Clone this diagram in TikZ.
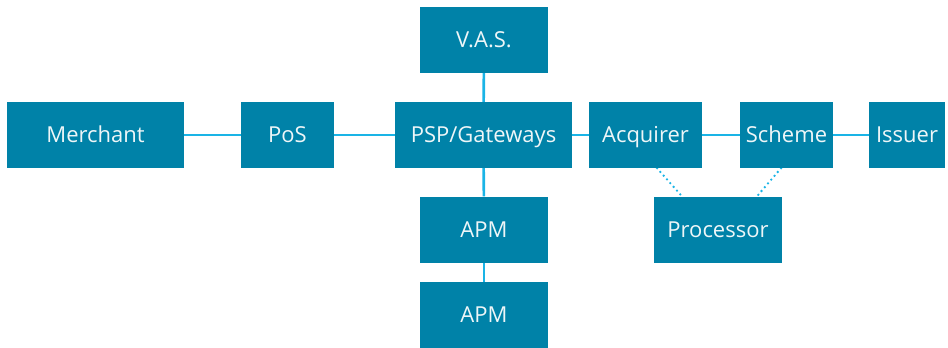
\documentclass[tikz,border=0pt]{standalone}
\usepackage{fontspec}
\setmainfont{Open Sans}
\usetikzlibrary{backgrounds,calc}
\definecolor{boxfill}{HTML}{0082A8}
\definecolor{linkc}{HTML}{1AB4E6}
\definecolor{txt}{HTML}{EEF6F8}
\begin{document}
\begin{tikzpicture}[x=1pt,y=-1pt,
  box/.style={fill=boxfill,text=txt,inner sep=0pt,minimum height=66pt,text height=15.7pt,text depth=0pt,font=\fontsize{22}{26}\selectfont},
  link/.style={draw=linkc,line width=2.6pt},
  dotlink/.style={draw=linkc,line width=2.6pt,line cap=round,dash pattern=on 0pt off 5pt}]
\useasboundingbox (0,0) rectangle (948,348);
\node[box,minimum width=177pt] (merchant) at (95.5,135) {Merchant};
\node[box,minimum width=93pt] (pos) at (287.5,135) {PoS};
\node[box,minimum width=177pt] (psp) at (483.5,135) {PSP/Gateways};
\node[box,minimum width=128pt] (vas) at (484,40) {V.A.S.};
\node[box,minimum width=113pt] (acq) at (645.5,135) {Acquirer};
\node[box,minimum width=93pt] (scheme) at (786.5,135) {Scheme};
\node[box,minimum width=76pt] (issuer) at (907,135) {Issuer};
\node[box,minimum width=128pt] (apma) at (484,229.5) {APM};
\node[box,minimum width=128pt] (apmb) at (484,315) {APM};
\node[box,minimum width=128pt] (proc) at (718,229.5) {Processor};
\coordinate (acqd) at ($(acq.south)+(11.5,0)$);
\coordinate (procl) at ($(proc.north)+(-36,0)$);
\coordinate (schd) at ($(scheme.south)+(-5.5,0)$);
\coordinate (procr) at ($(proc.north)+(39,0)$);
\begin{scope}[on background layer]
\draw[link] (merchant) -- (pos);
\draw[link] (pos) -- (psp);
\draw[link] (psp) -- (acq);
\draw[link] (acq) -- (scheme);
\draw[link] (scheme) -- (issuer);
\draw[link] (vas) -- (psp);
\draw[link] (psp) -- (apma);
\draw[link] (apma) -- (apmb);
\draw[dotlink] (acqd) -- (procl);
\draw[dotlink] (schd) -- (procr);
\end{scope}
\end{tikzpicture}
\end{document}
